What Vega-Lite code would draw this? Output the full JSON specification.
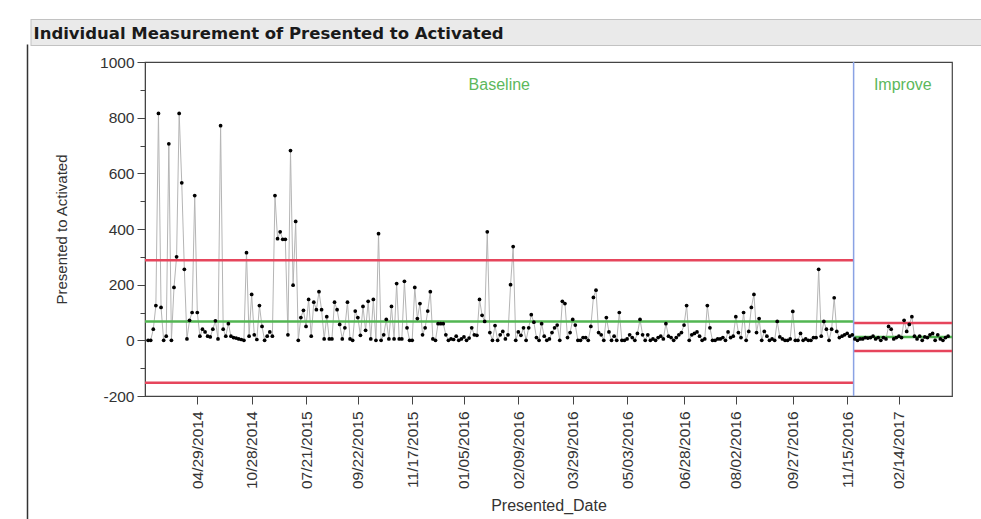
{
  "$schema": "https://vega.github.io/schema/vega-lite/v6.json",
  "autosize": "none",
  "padding": {"left": 145, "top": 62, "right": 29, "bottom": 123},
  "width": 807,
  "height": 334,
  "background": "white",
  "config": {"font": "Liberation Sans"},
  "view": {"stroke": "#444444", "strokeWidth": 1.2},
  "datasets": {
    "points": [
      {"i":1,"v":0},{"i":2,"v":0},{"i":3,"v":40},{"i":4,"v":125},{"i":5,"v":815},{"i":6,"v":118},{"i":7,"v":0},{"i":8,"v":15},{"i":9,"v":706},{"i":10,"v":0},
      {"i":11,"v":190},{"i":12,"v":300},{"i":13,"v":815},{"i":14,"v":566},{"i":15,"v":255},{"i":16,"v":5},{"i":17,"v":72},{"i":18,"v":100},{"i":19,"v":520},{"i":20,"v":100},
      {"i":21,"v":15},{"i":22,"v":40},{"i":23,"v":30},{"i":24,"v":15},{"i":25,"v":12},{"i":26,"v":40},{"i":27,"v":70},{"i":28,"v":5},{"i":29,"v":771},{"i":30,"v":40},
      {"i":31,"v":15},{"i":32,"v":60},{"i":33,"v":15},{"i":34,"v":10},{"i":35,"v":8},{"i":36,"v":5},{"i":37,"v":3},{"i":38,"v":0},{"i":39,"v":315},{"i":40,"v":15},
      {"i":41,"v":165},{"i":42,"v":20},{"i":43,"v":3},{"i":44,"v":125},{"i":45,"v":50},{"i":46,"v":0},{"i":47,"v":15},{"i":48,"v":30},{"i":49,"v":15},{"i":50,"v":520},
      {"i":51,"v":365},{"i":52,"v":390},{"i":53,"v":363},{"i":54,"v":363},{"i":55,"v":20},{"i":56,"v":682},{"i":57,"v":198},{"i":58,"v":427},{"i":59,"v":0},{"i":60,"v":82},
      {"i":61,"v":108},{"i":62,"v":50},{"i":63,"v":147},{"i":64,"v":15},{"i":65,"v":137},{"i":66,"v":110},{"i":67,"v":175},{"i":68,"v":110},{"i":69,"v":5},{"i":70,"v":85},
      {"i":71,"v":5},{"i":72,"v":5},{"i":73,"v":137},{"i":74,"v":110},{"i":75,"v":57},{"i":76,"v":5},{"i":77,"v":45},{"i":78,"v":137},{"i":79,"v":5},{"i":80,"v":0},
      {"i":81,"v":105},{"i":82,"v":82},{"i":83,"v":18},{"i":84,"v":122},{"i":85,"v":36},{"i":86,"v":140},{"i":87,"v":5},{"i":88,"v":147},{"i":89,"v":0},{"i":90,"v":383},
      {"i":91,"v":0},{"i":92,"v":20},{"i":93,"v":75},{"i":94,"v":5},{"i":95,"v":122},{"i":96,"v":5},{"i":97,"v":204},{"i":98,"v":5},{"i":99,"v":5},{"i":100,"v":212},
      {"i":101,"v":45},{"i":102,"v":0},{"i":103,"v":0},{"i":104,"v":190},{"i":105,"v":78},{"i":106,"v":132},{"i":107,"v":20},{"i":108,"v":45},{"i":109,"v":105},{"i":110,"v":175},
      {"i":111,"v":5},{"i":112,"v":0},{"i":113,"v":60},{"i":114,"v":60},{"i":115,"v":60},{"i":116,"v":20},{"i":117,"v":0},{"i":118,"v":5},{"i":119,"v":3},{"i":120,"v":15},
      {"i":121,"v":0},{"i":122,"v":5},{"i":123,"v":12},{"i":124,"v":0},{"i":125,"v":8},{"i":126,"v":45},{"i":127,"v":20},{"i":128,"v":18},{"i":129,"v":147},{"i":130,"v":90},
      {"i":131,"v":68},{"i":132,"v":390},{"i":133,"v":28},{"i":134,"v":0},{"i":135,"v":53},{"i":136,"v":0},{"i":137,"v":20},{"i":138,"v":32},{"i":139,"v":5},{"i":140,"v":20},
      {"i":141,"v":200},{"i":142,"v":337},{"i":143,"v":0},{"i":144,"v":30},{"i":145,"v":18},{"i":146,"v":45},{"i":147,"v":0},{"i":148,"v":45},{"i":149,"v":92},{"i":150,"v":65},
      {"i":151,"v":10},{"i":152,"v":0},{"i":153,"v":60},{"i":154,"v":15},{"i":155,"v":0},{"i":156,"v":5},{"i":157,"v":28},{"i":158,"v":45},{"i":159,"v":55},{"i":160,"v":0},
      {"i":161,"v":140},{"i":162,"v":132},{"i":163,"v":10},{"i":164,"v":28},{"i":165,"v":75},{"i":166,"v":55},{"i":167,"v":0},{"i":168,"v":0},{"i":169,"v":10},{"i":170,"v":10},
      {"i":171,"v":0},{"i":172,"v":50},{"i":173,"v":154},{"i":174,"v":180},{"i":175,"v":28},{"i":176,"v":20},{"i":177,"v":0},{"i":178,"v":82},{"i":179,"v":30},{"i":180,"v":0},
      {"i":181,"v":15},{"i":182,"v":0},{"i":183,"v":100},{"i":184,"v":0},{"i":185,"v":0},{"i":186,"v":5},{"i":187,"v":20},{"i":188,"v":10},{"i":189,"v":0},{"i":190,"v":25},
      {"i":191,"v":75},{"i":192,"v":20},{"i":193,"v":0},{"i":194,"v":20},{"i":195,"v":0},{"i":196,"v":5},{"i":197,"v":0},{"i":198,"v":10},{"i":199,"v":15},{"i":200,"v":5},
      {"i":201,"v":60},{"i":202,"v":15},{"i":203,"v":10},{"i":204,"v":0},{"i":205,"v":10},{"i":206,"v":20},{"i":207,"v":28},{"i":208,"v":55},{"i":209,"v":125},{"i":210,"v":0},
      {"i":211,"v":20},{"i":212,"v":25},{"i":213,"v":30},{"i":214,"v":15},{"i":215,"v":0},{"i":216,"v":5},{"i":217,"v":125},{"i":218,"v":45},{"i":219,"v":0},{"i":220,"v":0},
      {"i":221,"v":5},{"i":222,"v":5},{"i":223,"v":10},{"i":224,"v":0},{"i":225,"v":30},{"i":226,"v":10},{"i":227,"v":15},{"i":228,"v":85},{"i":229,"v":28},{"i":230,"v":10},
      {"i":231,"v":100},{"i":232,"v":0},{"i":233,"v":32},{"i":234,"v":118},{"i":235,"v":165},{"i":236,"v":28},{"i":237,"v":78},{"i":238,"v":0},{"i":239,"v":32},{"i":240,"v":15},
      {"i":241,"v":0},{"i":242,"v":5},{"i":243,"v":0},{"i":244,"v":68},{"i":245,"v":12},{"i":246,"v":5},{"i":247,"v":0},{"i":248,"v":0},{"i":249,"v":5},{"i":250,"v":104},
      {"i":251,"v":0},{"i":252,"v":0},{"i":253,"v":25},{"i":254,"v":0},{"i":255,"v":5},{"i":256,"v":0},{"i":257,"v":0},{"i":258,"v":10},{"i":259,"v":10},{"i":260,"v":255},
      {"i":261,"v":15},{"i":262,"v":68},{"i":263,"v":40},{"i":264,"v":0},{"i":265,"v":40},{"i":266,"v":153},{"i":267,"v":32},{"i":268,"v":10},{"i":269,"v":15},{"i":270,"v":20},
      {"i":271,"v":25},{"i":272,"v":15},{"i":273,"v":20},{"i":274,"v":5},{"i":275,"v":0},{"i":276,"v":5},{"i":277,"v":5},{"i":278,"v":10},{"i":279,"v":8},{"i":280,"v":10},
      {"i":281,"v":15},{"i":282,"v":5},{"i":283,"v":10},{"i":284,"v":0},{"i":285,"v":10},{"i":286,"v":5},{"i":287,"v":50},{"i":288,"v":40},{"i":289,"v":5},{"i":290,"v":10},
      {"i":291,"v":15},{"i":292,"v":10},{"i":293,"v":72},{"i":294,"v":32},{"i":295,"v":57},{"i":296,"v":85},{"i":297,"v":15},{"i":298,"v":5},{"i":299,"v":15},{"i":300,"v":0},
      {"i":301,"v":12},{"i":302,"v":10},{"i":303,"v":20},{"i":304,"v":25},{"i":305,"v":0},{"i":306,"v":20},{"i":307,"v":5},{"i":308,"v":0},{"i":309,"v":10},{"i":310,"v":15}
    ],
    "phases": [
      {"phase": "Baseline", "from": -0.2, "to": 273.5, "ucl": 288, "mean": 68, "lcl": -152},
      {"phase": "Improve", "from": 273.5, "to": 311.5, "ucl": 62, "mean": 12, "lcl": -38}
    ]
  },
  "resolve": {
    "scale": {"x": "independent", "y": "independent"},
    "axis": {"x": "independent", "y": "independent"}
  },
  "layer": [
    {
      "data": {"values": [{"d": 0}]},
      "mark": {"type": "point", "opacity": 0},
      "encoding": {
        "x": {
          "datum": 0, "type": "quantitative",
          "scale": {"domain": [0, 1], "range": [-115, 837]},
          "axis": {
            "orient": "top", "offset": 30, "domainWidth": 27, "domainColor": "#c2c2c2",
            "ticks": false, "labels": false, "grid": false, "title": null
          }
        },
        "y": {
          "datum": 0, "type": "quantitative",
          "scale": {"domain": [0, 1], "range": [457, -18]},
          "axis": {
            "orient": "left", "offset": 118, "domainWidth": 1.5, "domainColor": "#333333",
            "ticks": false, "labels": false, "grid": false, "title": null
          }
        }
      }
    },
    {
      "data": {"values": [{"d": 0}]},
      "mark": {"type": "point", "opacity": 0},
      "encoding": {
        "x": {
          "datum": 0, "type": "quantitative",
          "scale": {"domain": [0, 1], "range": [-114, 836]},
          "axis": {
            "orient": "top", "offset": 30, "domainWidth": 25, "domainColor": "#eaeaea",
            "ticks": false, "labels": false, "grid": false,
            "title": "Individual Measurement of Presented to Activated",
            "titleX": -112, "titleY": 6, "titleAlign": "left", "titleBaseline": "alphabetic",
            "titleAngle": 0, "titleFontSize": 16.5, "titleFontWeight": "bold", "titleColor": "#1a1a1a",
            "titleFont": "DejaVu Sans"
          }
        }
      }
    },
    {
      "data": {"name": "points"},
      "mark": {"type": "line", "color": "#b5b5b5", "strokeWidth": 1},
      "encoding": {
        "x": {
          "field": "i", "type": "quantitative",
          "scale": {"domain": [-0.2, 311.5], "nice": false, "zero": false},
          "axis": {
            "orient": "bottom",
            "values": [20, 41, 62, 82, 103, 123, 144, 165, 186, 208, 228, 250, 271, 291],
            "labelExpr": "datum.value==20?'04/29/2014':datum.value==41?'10/28/2014':datum.value==62?'07/21/2015':datum.value==82?'09/22/2015':datum.value==103?'11/17/2015':datum.value==123?'01/05/2016':datum.value==144?'02/09/2016':datum.value==165?'03/29/2016':datum.value==186?'05/03/2016':datum.value==208?'06/28/2016':datum.value==228?'08/02/2016':datum.value==250?'09/27/2016':datum.value==271?'11/15/2016':datum.value==291?'02/14/2017':''",
            "labelAngle": 270,
            "labelFontSize": 15.5,
            "labelColor": "#333333",
            "labelPadding": 7,
            "labelOverlap": false,
            "tickSize": 8,
            "tickColor": "#444444",
            "domainColor": "#444444",
            "grid": false,
            "title": "Presented_Date",
            "titleFontSize": 16,
            "titleFontWeight": "normal",
            "titleColor": "#333333",
            "titlePadding": 9
          }
        },
        "y": {
          "field": "v", "type": "quantitative",
          "scale": {"domain": [-200, 1000], "nice": false, "zero": false},
          "axis": {
            "orient": "left",
            "values": [-200, 0, 200, 400, 600, 800, 1000],
            "labelExpr": "'' + datum.value",
            "labelFontSize": 15.5,
            "labelColor": "#333333",
            "labelPadding": 3,
            "tickSize": 8,
            "tickColor": "#444444",
            "domainColor": "#444444",
            "grid": false,
            "title": "Presented to Activated",
            "titleFontSize": 15,
            "titleFontWeight": "normal",
            "titleColor": "#333333",
            "titlePadding": 30
          }
        }
      }
    },
    {
      "data": {"name": "phases"},
      "transform": [{"fold": ["ucl", "mean", "lcl"], "as": ["key", "value"]}],
      "mark": {"type": "rule", "strokeWidth": 2.5},
      "encoding": {
        "x": {"field": "from", "type": "quantitative", "scale": {"domain": [-0.2, 311.5], "nice": false, "zero": false}, "axis": null},
        "x2": {"field": "to"},
        "y": {"field": "value", "type": "quantitative", "scale": {"domain": [-200, 1000], "nice": false, "zero": false}, "axis": null},
        "color": {
          "field": "key", "type": "nominal", "legend": null,
          "scale": {"domain": ["ucl", "mean", "lcl"], "range": ["#e6455c", "#52b652", "#e6455c"]}
        }
      }
    },
    {
      "data": {"name": "phases"},
      "transform": [{"filter": "datum.phase == 'Improve'"}],
      "mark": {"type": "rule", "color": "#8aa2e4", "strokeWidth": 1.5},
      "encoding": {
        "x": {"field": "from", "type": "quantitative", "scale": {"domain": [-0.2, 311.5], "nice": false, "zero": false}, "axis": null}
      }
    },
    {
      "data": {"name": "points"},
      "mark": {"type": "point", "filled": true, "color": "#000000", "size": 14, "opacity": 1},
      "encoding": {
        "x": {"field": "i", "type": "quantitative", "scale": {"domain": [-0.2, 311.5], "nice": false, "zero": false}, "axis": null},
        "y": {
          "field": "v", "type": "quantitative",
          "scale": {"domain": [-200, 1000], "nice": false, "zero": false},
          "axis": {
            "orient": "left",
            "values": [-100, 100, 300, 500, 700, 900],
            "labels": false,
            "domain": false,
            "tickSize": 5,
            "tickColor": "#444444",
            "grid": false,
            "title": null
          }
        }
      }
    },
    {
      "data": {"name": "phases"},
      "transform": [{"calculate": "(datum.from + datum.to) / 2", "as": "mid"}],
      "mark": {"type": "text", "fontSize": 16, "color": "#5cb85c", "align": "center", "baseline": "middle"},
      "encoding": {
        "x": {"field": "mid", "type": "quantitative", "scale": {"domain": [-0.2, 311.5], "nice": false, "zero": false}, "axis": null},
        "y": {"datum": 918, "type": "quantitative", "scale": {"domain": [-200, 1000], "nice": false, "zero": false}, "axis": null},
        "text": {"field": "phase"}
      }
    }
  ]
}
